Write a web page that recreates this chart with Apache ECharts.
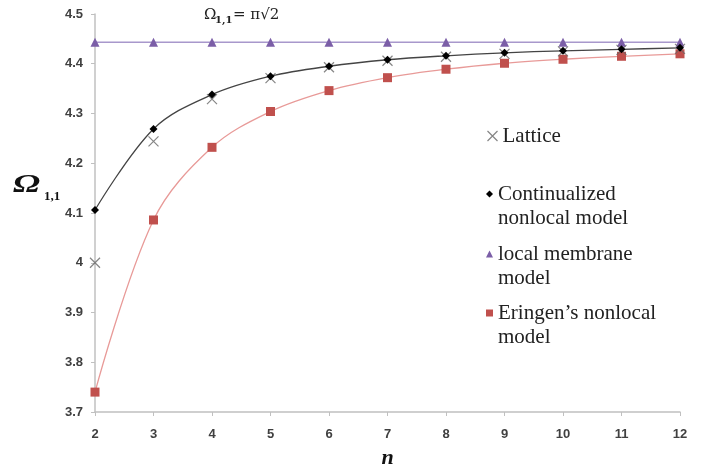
<!DOCTYPE html>
<html>
<head>
<meta charset="utf-8">
<script src="https://cdn.jsdelivr.net/npm/echarts@6/dist/echarts.min.js"></script>
<style>html,body{margin:0;padding:0;background:#fff}#c{width:714px;height:474px}</style>
</head>
<body>
<div id="c"></div>
<script>
var nValues = [2, 3, 4, 5, 6, 7, 8, 9, 10, 11, 12];
var lattice = [4.000, 4.244, 4.329, 4.371, 4.393, 4.406, 4.414, 4.420, 4.425, 4.428, 4.430];
var continualized = [4.106, 4.269, 4.338, 4.375, 4.395, 4.408, 4.416, 4.422, 4.426, 4.429, 4.432];
var localMembrane = [4.443, 4.443, 4.443, 4.443, 4.443, 4.443, 4.443, 4.443, 4.443, 4.443, 4.443];
var eringen = [3.740, 4.086, 4.232, 4.304, 4.346, 4.372, 4.389, 4.401, 4.409, 4.415, 4.420];
var seriesNames = ['Lattice', 'Continualized\nnonlocal model', 'local membrane\nmodel', 'Eringen\u2019s nonlocal\nmodel'];

function pairs(ys) { return nValues.map(function (x, i) { return [x, ys[i]]; }); }

var X_PATH = 'path://M0,0L10,10M10,0L0,10';
var legendText = { fontFamily: 'Liberation Serif', fontSize: 21, color: '#222', lineHeight: 24 };

function mkLegend(name, icon, itemStyle, top, size, left, twoLine) {
  var l = {
    data: [{ name: name, icon: icon, itemStyle: itemStyle }],
    left: left, top: top, padding: 0, itemWidth: size, itemHeight: size, itemGap: 0,
    textStyle: legendText, selectedMode: false
  };
  if (twoLine) { l.formatter = function (n) { return '\u00a0\n' + n; }; }
  return l;
}

var chart = echarts.init(document.getElementById('c'), null, { renderer: 'canvas' });
chart.setOption({
  animation: false,
  backgroundColor: '#fff',
  grid: { left: 95, right: 34, top: 14, bottom: 61 },
  xAxis: {
    type: 'value', min: 2, max: 12, interval: 1,
    name: 'n', nameLocation: 'middle', nameGap: 35,
    nameTextStyle: { fontFamily: 'Liberation Serif', fontWeight: 'bold', fontStyle: 'italic', fontSize: 22, color: '#111' },
    axisLine: { lineStyle: { color: '#c0c0c0', width: 1.5 } },
    axisTick: { show: true, length: 4, lineStyle: { color: '#c0c0c0' } },
    axisLabel: { fontFamily: 'Liberation Sans', fontWeight: 'bold', fontSize: 13, color: '#404040', margin: 16 },
    splitLine: { show: false }
  },
  yAxis: {
    type: 'value', min: 3.7, max: 4.5, interval: 0.1,
    axisLine: { show: true, lineStyle: { color: '#c0c0c0', width: 1.5 } },
    axisTick: { show: true, length: 4, lineStyle: { color: '#c0c0c0' } },
    axisLabel: { fontFamily: 'Liberation Sans', fontWeight: 'bold', fontSize: 13, color: '#404040', margin: 12 },
    splitLine: { show: false }
  },
  legend: [
    mkLegend(seriesNames[0], X_PATH, { color: 'none', borderColor: '#666', borderWidth: 1.2 }, 124, 10, 485, false),
    mkLegend(seriesNames[1], 'diamond', { color: '#000' }, 158, 7, 486, true),
    mkLegend(seriesNames[2], 'triangle', { color: '#7b5ea7' }, 218, 7, 486, true),
    mkLegend(seriesNames[3], 'rect', { color: '#c0504d' }, 277, 7, 486, true)
  ],
  graphic: [
    { type: 'text', x: 13, y: 173, scaleX: 1.45, style: { text: '\u03A9', font: 'italic bold 25px "Liberation Serif"', fill: '#111' } },
    { type: 'text', x: 44, y: 190, style: { text: '1,1', font: 'bold 13px "Liberation Serif"', fill: '#111' } },
    { type: 'text', x: 204, y: 8, style: { text: '\u03A9', font: '15px "DejaVu Serif"', fill: '#222' } },
    { type: 'text', x: 215, y: 15, style: { text: '1,1', font: 'bold 10px "DejaVu Serif"', fill: '#222' } },
    { type: 'text', x: 233, y: 8, style: { text: '= \u03C0\u221A2', font: '15px "DejaVu Serif"', fill: '#222' } }
  ],
  series: [
    {
      name: seriesNames[3], type: 'line', smooth: 0.35, data: pairs(eringen),
      symbol: 'rect', symbolSize: 9,
      itemStyle: { color: '#c0504d' }, lineStyle: { color: '#e89a98', width: 1.3 }, z: 2
    },
    {
      name: seriesNames[2], type: 'line', data: pairs(localMembrane),
      symbol: 'triangle', symbolSize: 9,
      itemStyle: { color: '#7b5ea7' }, lineStyle: { color: '#a898cc', width: 1.5 }, z: 2
    },
    {
      name: seriesNames[0], type: 'scatter', data: pairs(lattice),
      symbol: X_PATH, symbolSize: 10,
      itemStyle: { color: 'none', borderColor: '#666', borderWidth: 1.2 }, z: 3
    },
    {
      name: seriesNames[1], type: 'line', smooth: 0.35, data: pairs(continualized),
      symbol: 'diamond', symbolSize: 8,
      itemStyle: { color: '#000' }, lineStyle: { color: '#444', width: 1.3 }, z: 4
    }
  ]
});
</script>
</body>
</html>
